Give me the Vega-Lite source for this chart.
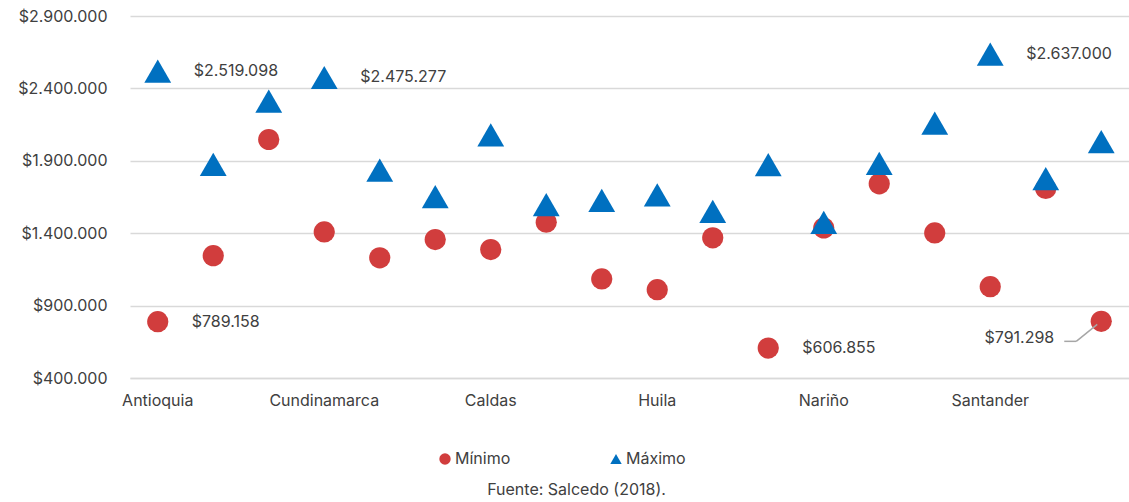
{
  "$schema": "https://vega.github.io/schema/vega-lite/v6.json",
  "width": 999,
  "height": 362,
  "autosize": "none",
  "padding": {"left": 130, "top": 16, "right": 0, "bottom": 124},
  "title": {"text": "Fuente: Salcedo (2018).", "orient": "bottom", "anchor": "middle", "fontSize": 16, "fontWeight": "normal", "color": "#404040", "font": "Inter", "dx": -53, "offset": 15},
  "config": {
    "locale": {"number": {"decimal": ",", "thousands": ".", "grouping": [3], "currency": ["$", ""]}},
    "view": {"stroke": null},
    "font": "Inter",
    "text": {"font": "Inter"}
  },
  "data": {"values": [
    {"departamento": "Antioquia", "tipo": "Mínimo", "valor": 789158},
    {"departamento": "Atlántico", "tipo": "Mínimo", "valor": 1245000},
    {"departamento": "Bogotá D.C.", "tipo": "Mínimo", "valor": 2047000},
    {"departamento": "Cundinamarca", "tipo": "Mínimo", "valor": 1409000},
    {"departamento": "Bolívar", "tipo": "Mínimo", "valor": 1230000},
    {"departamento": "Boyacá", "tipo": "Mínimo", "valor": 1356000},
    {"departamento": "Caldas", "tipo": "Mínimo", "valor": 1287000},
    {"departamento": "Caquetá", "tipo": "Mínimo", "valor": 1476000},
    {"departamento": "Cauca", "tipo": "Mínimo", "valor": 1084000},
    {"departamento": "Huila", "tipo": "Mínimo", "valor": 1010000},
    {"departamento": "Magdalena", "tipo": "Mínimo", "valor": 1368000},
    {"departamento": "Meta", "tipo": "Mínimo", "valor": 606855},
    {"departamento": "Nariño", "tipo": "Mínimo", "valor": 1436000},
    {"departamento": "Quindío", "tipo": "Mínimo", "valor": 1741000},
    {"departamento": "Risaralda", "tipo": "Mínimo", "valor": 1402000},
    {"departamento": "Santander", "tipo": "Mínimo", "valor": 1031000},
    {"departamento": "Tolima", "tipo": "Mínimo", "valor": 1709000},
    {"departamento": "Valle del Cauca", "tipo": "Mínimo", "valor": 791298},
    {"departamento": "Antioquia", "tipo": "Máximo", "valor": 2519098},
    {"departamento": "Atlántico", "tipo": "Máximo", "valor": 1875000},
    {"departamento": "Bogotá D.C.", "tipo": "Máximo", "valor": 2312000},
    {"departamento": "Cundinamarca", "tipo": "Máximo", "valor": 2475277},
    {"departamento": "Bolívar", "tipo": "Máximo", "valor": 1835000},
    {"departamento": "Boyacá", "tipo": "Máximo", "valor": 1652000},
    {"departamento": "Caldas", "tipo": "Máximo", "valor": 2079000},
    {"departamento": "Caquetá", "tipo": "Máximo", "valor": 1598000},
    {"departamento": "Cauca", "tipo": "Máximo", "valor": 1627000},
    {"departamento": "Huila", "tipo": "Máximo", "valor": 1664000},
    {"departamento": "Magdalena", "tipo": "Máximo", "valor": 1551000},
    {"departamento": "Meta", "tipo": "Máximo", "valor": 1873000},
    {"departamento": "Nariño", "tipo": "Máximo", "valor": 1474000},
    {"departamento": "Quindío", "tipo": "Máximo", "valor": 1883000},
    {"departamento": "Risaralda", "tipo": "Máximo", "valor": 2160000},
    {"departamento": "Santander", "tipo": "Máximo", "valor": 2637000},
    {"departamento": "Tolima", "tipo": "Máximo", "valor": 1777000},
    {"departamento": "Valle del Cauca", "tipo": "Máximo", "valor": 2032000}
  ]},
  "encoding": {
    "x": {"field": "departamento", "type": "nominal", "sort": null,
      "scale": {"paddingInner": 0, "paddingOuter": 0},
      "axis": {"values": ["Antioquia", "Cundinamarca", "Caldas", "Huila", "Nariño", "Santander"],
        "title": null, "ticks": false, "labelAngle": 0, "labelFontSize": 16, "labelFontWeight": "normal", "labelColor": "#404040",
        "labelFont": "Inter", "labelPadding": 14, "domainColor": "#d9d9d9", "domainWidth": 1.5, "grid": false}},
    "y": {"field": "valor", "type": "quantitative",
      "scale": {"domain": [400000, 2900000], "nice": false, "zero": false},
      "axis": {"values": [400000, 900000, 1400000, 1900000, 2400000, 2900000], "format": "$,.0f",
        "title": null, "ticks": false, "domain": false, "gridColor": "#d9d9d9", "gridWidth": 1.5,
        "labelPadding": 23, "labelFontSize": 16, "labelFontWeight": "normal", "labelColor": "#404040", "labelFont": "Inter"}}
  },
  "layer": [
    {
      "transform": [{"filter": "datum.tipo == 'Mínimo'"}],
      "mark": {"type": "point", "filled": true, "opacity": 1, "size": 450},
      "encoding": {
        "color": {"field": "tipo", "type": "nominal",
          "scale": {"domain": ["Mínimo", "Máximo"], "range": ["#D13D3D", "#0070C0"]},
          "legend": {"title": null, "orient": "none", "legendX": 307, "legendY": 435, "direction": "horizontal",
            "columnPadding": 97, "labelFontSize": 16, "labelFontWeight": "normal", "labelColor": "#404040", "labelFont": "Inter",
            "labelOffset": 2, "symbolSize": 130, "padding": 0}},
        "shape": {"field": "tipo", "type": "nominal",
          "scale": {"domain": ["Mínimo", "Máximo"], "range": ["circle", "triangle-up"]}}
      }
    },
    {
      "transform": [{"filter": "datum.tipo == 'Máximo'"}],
      "mark": {"type": "point", "filled": true, "opacity": 1, "size": 720},
      "encoding": {
        "color": {"field": "tipo", "type": "nominal"},
        "shape": {"field": "tipo", "type": "nominal"}
      }
    },
    {
      "transform": [{"filter": "datum.tipo == 'Máximo' && (datum.departamento == 'Antioquia' || datum.departamento == 'Cundinamarca' || datum.departamento == 'Santander')"}],
      "mark": {"type": "text", "align": "left", "baseline": "middle", "dx": 36, "fontSize": 16, "color": "#404040"},
      "encoding": {"text": {"field": "valor", "type": "quantitative", "format": "$,.0f"}}
    },
    {
      "transform": [{"filter": "datum.tipo == 'Mínimo' && (datum.departamento == 'Antioquia' || datum.departamento == 'Meta')"}],
      "mark": {"type": "text", "align": "left", "baseline": "middle", "dx": 34, "fontSize": 16, "color": "#404040"},
      "encoding": {"text": {"field": "valor", "type": "quantitative", "format": "$,.0f"}}
    },
    {
      "transform": [{"filter": "datum.tipo == 'Mínimo' && datum.departamento == 'Valle del Cauca'"}],
      "mark": {"type": "text", "align": "right", "baseline": "middle", "dx": -47, "dy": 17, "fontSize": 16, "color": "#404040"},
      "encoding": {"text": {"field": "valor", "type": "quantitative", "format": "$,.0f"}}
    },
    {
      "transform": [{"filter": "datum.tipo == 'Mínimo' && datum.departamento == 'Valle del Cauca'"}],
      "mark": {"type": "rule", "color": "#a6a6a6", "strokeWidth": 1.5, "xOffset": -37, "x2Offset": -25, "yOffset": 20, "y2Offset": 20},
      "encoding": {"x2": {"field": "departamento"}, "y2": {"field": "valor"}}
    },
    {
      "transform": [{"filter": "datum.tipo == 'Mínimo' && datum.departamento == 'Valle del Cauca'"}],
      "mark": {"type": "rule", "color": "#a6a6a6", "strokeWidth": 1.5, "xOffset": -25, "x2Offset": -4, "yOffset": 20, "y2Offset": 3},
      "encoding": {"x2": {"field": "departamento"}, "y2": {"field": "valor"}}
    }
  ]
}
